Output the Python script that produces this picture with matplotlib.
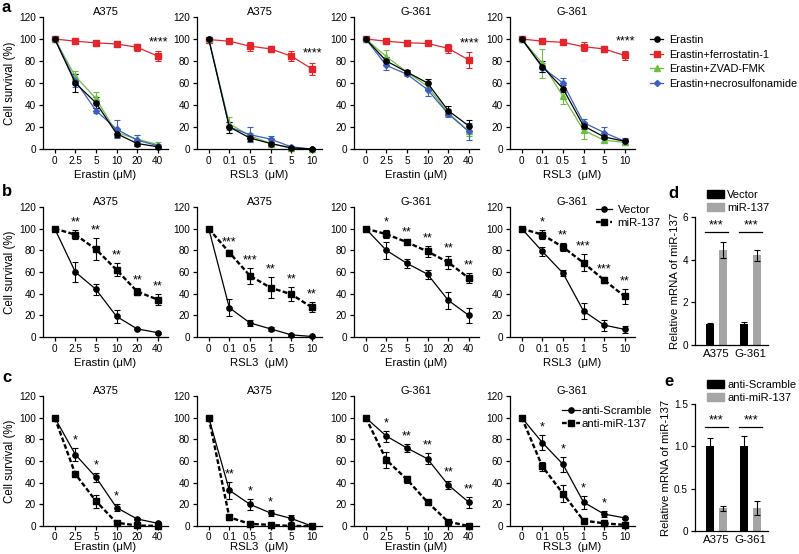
import matplotlib.pyplot as plt
import numpy as np
from matplotlib.lines import Line2D
from matplotlib.patches import Patch

plt.rcParams['font.family'] = ['Liberation Sans', 'DejaVu Sans']
plt.rcParams['font.size'] = 7

# ---------------- data ----------------
erastin_ticks = ['0', '2.5', '5', '10', '20', '40']
rsl3_ticks = ['0', '0.1', '0.5', '1', '5', '10']
panel_titles = ['A375', 'A375', 'G-361', 'G-361']
panel_xlabels = ['Erastin (μM)', 'RSL3  (μM)', 'Erastin (μM)', 'RSL3  (μM)']
panel_xticks = [erastin_ticks, rsl3_ticks, erastin_ticks, rsl3_ticks]

# row a
a_erastin = [[100, 60, 42, 14, 5, 2], [100, 20, 10, 5, 1, 0],
             [100, 80, 70, 60, 35, 21], [100, 75, 55, 21, 11, 7]]
a_erastin_err = [[0, 8, 5, 3, 2, 1], [0, 5, 3, 1.5, 1, 0.5],
                 [0, 4, 2, 4, 4, 5], [0, 5, 3, 3, 2, 2]]
a_ferro = [[100, 98, 96.5, 95.5, 92.5, 84.5], [99.5, 98, 93.5, 91, 84.5, 73],
           [100, 98, 96.5, 96, 91.5, 81], [100, 98, 97, 93, 91, 85]]
a_ferro_err = [[0, 2, 2, 2, 3, 4.5], [0.5, 1, 4, 2.5, 4.5, 5.5],
               [0, 1, 1, 1, 4, 7], [0, 1, 1, 4, 3, 4.5]]
a_zvad = [[100, 66, 46, 15, 9, 4], [100, 23, 12, 5, 1, 0],
          [100, 84, 70, 57, 33, 16], [100, 78, 48, 17, 8, 6]]
a_zvad_err = [[0, 5, 6, 3, 4, 2], [0, 6, 3, 2, 1, 0],
              [0, 6, 2, 3, 3, 4], [0, 13, 7, 8, 2, 2]]
a_necro = [[100, 62, 35, 18, 8, 3], [100, 20, 13, 9, 2, 0],
           [100, 76, 68, 54, 32, 16], [100, 74, 60, 24, 15, 7]]
a_necro_err = [[0, 6, 2, 8, 5, 2], [0, 5, 7, 3, 1, 0],
               [0, 4, 2, 6, 3, 8], [0, 4, 5, 3, 5, 3]]

# row b
b_vector = [[100, 60, 44, 19, 7.5, 4], [100, 27, 13, 7.5, 2, 0.5],
            [100, 80, 68, 58, 34, 20], [100, 79, 59, 24, 11, 7]]
b_vector_err = [[0, 9, 5, 6, 1, 1], [0, 8, 3, 1.5, 1, 0.5],
                [0, 8, 4, 4, 8, 7], [0, 4, 3, 7, 5, 3]]
b_mir = [[100, 94.5, 81, 62, 42, 34.5], [100, 78, 56.5, 45.5, 39.5, 27.5],
         [100, 95, 87.5, 79, 69, 54.5], [100, 94.5, 83, 68.5, 52.5, 37.5]]
b_mir_err = [[0, 4, 10, 6, 3, 5], [0, 2, 7.5, 9.5, 6.5, 4.5],
             [0, 4, 2, 5, 6, 5], [0, 4, 4, 8, 3, 7]]
b_stars = [['**', '**', '**', '**', '**'], ['***', '***', '**', '**', '**'],
           ['*', '**', '**', '**', '**'], ['*', '**', '***', '***', '**']]

# row c
c_scramble = [[100, 66, 45, 17, 6.5, 2.5], [100, 33, 20, 12, 7, 0],
              [100, 83, 72, 62, 38, 22], [100, 77, 57, 22, 11, 7.5]]
c_scramble_err = [[0, 6, 4, 3, 1, 1], [0, 8, 5, 3, 3, 0],
                  [0, 5, 4, 5, 4, 5], [0, 7, 7, 6, 3, 1]]
c_anti = [[100, 48, 23, 3, 0.5, 0], [100, 8, 2, 1, 0, 0],
          [100, 61, 43, 22, 4, 0], [100, 55, 30, 5, 2.5, 1]]
c_anti_err = [[0, 2, 6, 1, 0, 0], [0, 2, 1, 0.5, 0, 0],
              [0, 7, 3, 2, 1, 0], [0, 4, 8, 2, 1, 1]]
c_stars = [['*', '*', '*', '', ''], ['**', '*', '*', '', ''],
           ['*', '**', '**', '**', '**'], ['*', '*', '*', '*', '']]

# panels d, e
groups = ['A375', 'G-361']
d_vector = [1.0, 1.0]
d_vector_err = [0.05, 0.08]
d_mir = [4.45, 4.2]
d_mir_err = [0.38, 0.25]
e_scramble = [1.0, 1.0]
e_scramble_err = [0.1, 0.12]
e_anti = [0.27, 0.27]
e_anti_err = [0.03, 0.08]

RED = '#e3262b'
GREEN = '#6dbe45'
BLUE = '#3b5fc0'
GRAY = '#a5a5a5'

W, H = 799, 554
fig = plt.figure(figsize=(W / 100, H / 100), dpi=100)


def px_axes(left, right, top, bottom):
    return fig.add_axes([left / W, 1 - bottom / H, (right - left) / W, (bottom - top) / H])


def style_axes(ax, pad=2):
    for s in ['top', 'right']:
        ax.spines[s].set_visible(False)
    for s in ['left', 'bottom']:
        ax.spines[s].set_linewidth(0.9)
    ax.tick_params(length=3, width=0.9, pad=pad, labelsize=7.2)


def survival_axes(left, top, bottom, i, xpad=2, labelpad=2):
    ax = px_axes(left, left + 125, top, bottom)
    style_axes(ax)
    ax.tick_params(axis='x', pad=xpad)
    ax.set_xlim(-0.57, 5.5)
    ax.set_ylim(0, 120)
    ax.set_yticks(range(0, 121, 20))
    ax.set_xticks(range(6))
    ax.set_xticklabels(panel_xticks[i])
    ax.set_title(panel_titles[i], fontsize=8, pad=1.5)
    ax.set_xlabel(panel_xlabels[i], fontsize=8.2, labelpad=labelpad)
    if i == 0:
        ax.set_ylabel('Cell survival (%)', fontsize=8.3, labelpad=2)
    return ax


cols = [43, 197, 354, 510]
x = np.arange(6)
MS = 3.8

# ---------------- row a ----------------
for i, left in enumerate(cols):
    ax = survival_axes(left, 17, 149, i, labelpad=3)
    series = [
        (a_ferro[i], a_ferro_err[i], RED, 's', MS, 'Erastin+ferrostatin-1'),
        (a_zvad[i], a_zvad_err[i], GREEN, '^', MS, 'Erastin+ZVAD-FMK'),
        (a_necro[i], a_necro_err[i], BLUE, 'D', 3.1, 'Erastin+necrosulfonamide'),
        (a_erastin[i], a_erastin_err[i], 'black', 'o', MS, 'Erastin'),
    ]
    for m, e, c, mk, ms, lab in series:
        ax.errorbar(x, m, yerr=e, color=c, marker=mk, ms=ms, lw=0.9,
                    capsize=2, elinewidth=0.8, capthick=0.8, label=lab, clip_on=False)
    ax.text(5.05, a_ferro[i][-1] + a_ferro_err[i][-1] + 8, '****',
            ha='center', va='center', fontsize=9)

handles_a = [
    Line2D([], [], color='black', marker='o', ms=MS, lw=0.9),
    Line2D([], [], color=RED, marker='s', ms=MS, lw=0.9),
    Line2D([], [], color=GREEN, marker='^', ms=MS, lw=0.9),
    Line2D([], [], color=BLUE, marker='D', ms=3.1, lw=0.9),
]
labels_a = ['Erastin', 'Erastin+ferrostatin-1', 'Erastin+ZVAD-FMK', 'Erastin+necrosulfonamide']
fig.legend(handles_a, labels_a, loc='upper left', bbox_to_anchor=(650 / W, 1 - 35 / H),
           frameon=False, fontsize=7.9, handlelength=1.2, handletextpad=0.5,
           labelspacing=0.42, borderaxespad=0, borderpad=0)


def pair_row(top, bottom, solid, solid_err, dashed, dashed_err, stars, star_on_dashed,
             xpad=2, labelpad=2):
    for i, left in enumerate(cols):
        ax = survival_axes(left, top, bottom, i, xpad, labelpad)
        ax.errorbar(x, solid[i], yerr=solid_err[i], color='black', marker='o', ms=MS,
                    lw=0.9, capsize=2, elinewidth=0.8, capthick=0.8, clip_on=False)
        ax.errorbar(x, dashed[i], yerr=dashed_err[i], color='black', marker='s', ms=MS,
                    lw=1.7, ls=(0, (2, 1)), capsize=2, elinewidth=0.8, capthick=0.8,
                    clip_on=False)
        ref = dashed if star_on_dashed else solid
        ref_err = dashed_err if star_on_dashed else solid_err
        for k, s in enumerate(stars[i]):
            if s:
                ax.text(k + 1, ref[i][k + 1] + ref_err[i][k + 1] + 7, s,
                        ha='center', va='center', fontsize=9)


# ---------------- row b ----------------
pair_row(207, 337, b_vector, b_vector_err, b_mir, b_mir_err, b_stars, True, labelpad=3)
handles_b = [Line2D([], [], color='black', marker='o', ms=MS, lw=0.9),
             Line2D([], [], color='black', marker='s', ms=MS, lw=1.7, ls=(0, (2, 1)))]
fig.legend(handles_b, ['Vector', 'miR-137'], loc='upper left',
           bbox_to_anchor=(596 / W, 1 - 205 / H), frameon=False, fontsize=8.2,
           handlelength=1.4, handletextpad=0.5, labelspacing=0.25,
           borderaxespad=0, borderpad=0)

# ---------------- row c ----------------
pair_row(396, 526, c_scramble, c_scramble_err, c_anti, c_anti_err, c_stars, False,
         xpad=1, labelpad=0.5)
handles_c = [Line2D([], [], color='black', marker='o', ms=MS, lw=0.9),
             Line2D([], [], color='black', marker='s', ms=MS, lw=1.7, ls=(0, (2, 1)))]
fig.legend(handles_c, ['anti-Scramble', 'anti-miR-137'], loc='upper left',
           bbox_to_anchor=(562 / W, 1 - 406 / H), frameon=False, fontsize=8.2,
           handlelength=1.6, handletextpad=0.15, labelspacing=0.25,
           borderaxespad=0, borderpad=0)


# ---------------- bar panels ----------------
def bar_panel(top, bottom, ymax, yticks, yticklabels, black, black_err, gray, gray_err,
              line_y, labels, legend_y):
    ax = px_axes(695, 768, top, bottom)
    style_axes(ax)
    g = np.arange(len(groups))
    ax.bar(g - 0.19, black, 0.25, yerr=black_err, color='black', capsize=2,
           error_kw=dict(elinewidth=0.8, capthick=0.8))
    ax.bar(g + 0.19, gray, 0.25, yerr=gray_err, color=GRAY, capsize=2,
           error_kw=dict(elinewidth=0.8, capthick=0.8, ecolor='black'))
    ax.set_xlim(-0.63, 1.51)
    ax.set_ylim(0, ymax)
    ax.set_yticks(yticks)
    ax.set_yticklabels(yticklabels)
    ax.set_xticks(g)
    ax.set_xticklabels(groups, fontsize=8.2)
    ax.tick_params(axis='x', length=0, pad=3)
    ax.set_ylabel('Relative mRNA of miR-137', fontsize=8.2, labelpad=2)
    for gi in g:
        ax.plot([gi - 0.33, gi + 0.33], [line_y, line_y], color='black', lw=0.9)
        ax.text(gi, line_y, '***', ha='center', va='bottom', fontsize=9)
    leg = [Patch(color='black'), Patch(color=GRAY)]
    fig.legend(leg, labels, loc='upper left', bbox_to_anchor=(707 / W, 1 - legend_y / H),
               frameon=False, fontsize=8, handlelength=1.5, handleheight=0.75,
               handletextpad=0.3, labelspacing=0.25, borderaxespad=0, borderpad=0)
    return ax


bar_panel(217, 345, 6, [0, 2, 4, 6], ['0', '2', '4', '6'], d_vector, d_vector_err,
          d_mir, d_mir_err, 5.3, ['Vector', 'miR-137'], 190)
bar_panel(404, 531, 1.5, [0, 0.5, 1.0, 1.5], ['0', '0.5', '1.0', '1.5'], e_scramble,
          e_scramble_err, e_anti, e_anti_err, 1.23, ['anti-Scramble', 'anti-miR-137'], 380)

# panel letters
for letter, (px, py) in zip('abcde', [(2, 8), (2, 192), (2, 378), (668, 193), (664, 382)]):
    fig.text(px / W, 1 - py / H, letter, fontsize=12, fontweight='bold', va='center')

fig.savefig('out.png', dpi=100)
